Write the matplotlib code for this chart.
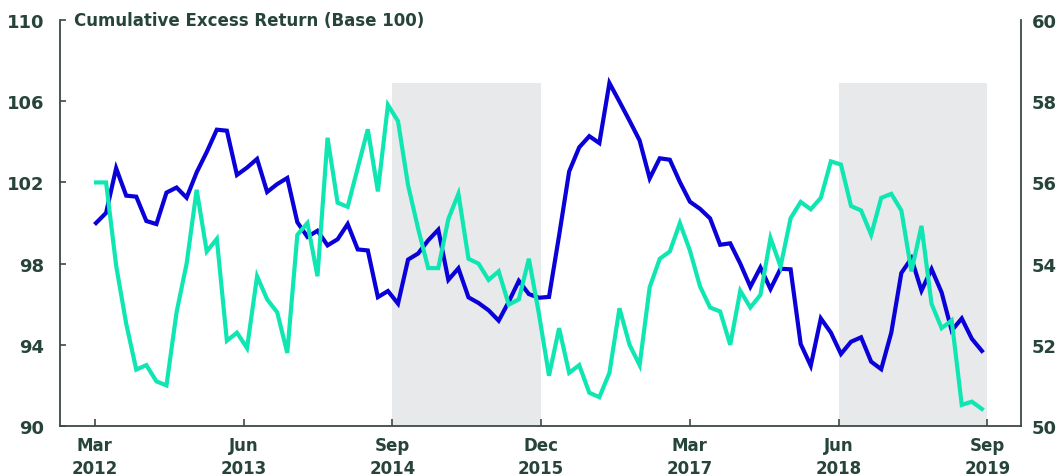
import matplotlib
matplotlib.use("Agg")
import matplotlib.pyplot as plt
import pandas as pd

# ---- data ----
excess_return = [
    100.0, 100.5, 102.7, 101.35, 101.3, 100.1, 99.95, 101.5, 101.75, 101.25,
    102.5, 103.5, 104.6, 104.55, 102.37, 102.73, 103.16, 101.53, 101.92, 102.22,
    100.04, 99.32, 99.62, 98.9, 99.2, 99.95, 98.7, 98.65, 96.35, 96.65,
    96.03, 98.2, 98.5, 99.15, 99.67, 97.2, 97.77, 96.34, 96.06, 95.7,
    95.19, 96.12, 97.15, 96.5, 96.32, 96.36, 99.38, 102.54, 103.73, 104.28,
    103.94, 106.9, 105.98, 105.04, 104.07, 102.2, 103.19, 103.12, 102.02, 101.05,
    100.7, 100.23, 98.93, 99.0, 98.0, 96.86, 97.81, 96.75, 97.75, 97.72,
    94.04, 92.97, 95.3, 94.6, 93.55, 94.15, 94.37, 93.17, 92.8, 94.6,
    97.54, 98.26, 96.67, 97.73, 96.58, 94.7, 95.3, 94.3, 93.7,
]
right_series = [
    56.0, 56.0, 53.95, 52.52, 51.39, 51.5, 51.1, 51.0, 52.8, 54.0,
    55.82, 54.3, 54.61, 52.1, 52.3, 51.92, 53.69, 53.12, 52.8, 51.8,
    54.71, 55.0, 53.69, 57.1, 55.5, 55.4, 56.36, 57.31, 55.78, 57.91,
    57.51, 55.93, 54.86, 53.89, 53.89, 55.1, 55.72, 54.12, 54.0, 53.6,
    53.81, 52.99, 53.12, 54.12, 52.76, 51.24, 52.41, 51.31, 51.5, 50.82,
    50.71, 51.31, 52.9, 52.0, 51.5, 53.42, 54.12, 54.3, 55.0, 54.32,
    53.44, 52.92, 52.82, 52.0, 53.33, 52.92, 53.23, 54.63, 53.93, 55.12,
    55.52, 55.34, 55.62, 56.52, 56.44, 55.42, 55.31, 54.71, 55.62, 55.72,
    55.31, 53.81, 54.93, 53.01, 52.41, 52.6, 50.52, 50.6, 50.42,
]
dates = pd.date_range("2012-03-05", "2019-08-15", periods=len(excess_return))

tick_dates = pd.to_datetime(["2012-03-01", "2013-06-01", "2014-09-01", "2015-12-01",
                             "2017-03-01", "2018-06-01", "2019-09-01"])
tick_labels = ["Mar\n2012", "Jun\n2013", "Sep\n2014", "Dec\n2015",
               "Mar\n2017", "Jun\n2018", "Sep\n2019"]
shaded_periods = [("2014-09-01", "2015-12-01"), ("2018-06-01", "2019-09-01")]
left_ticks = [90, 94, 98, 102, 106, 110]
right_ticks = [50, 52, 54, 56, 58, 60]
title = "Cumulative Excess Return (Base 100)"

# ---- style ----
TXT = "#27443a"
SPINE = "#3c4a44"
BLUE = "#0a00d8"
GREEN = "#10e6b2"
SHADE = "#e8e9eb"
plt.rcParams["font.family"] = ["DejaVu Sans"]

fig = plt.figure(figsize=(10.59, 4.77), dpi=100)
ax = fig.add_axes([0.0562, 0.1048, 0.9079, 0.851])
ax2 = ax.twinx()

for s, e in shaded_periods:
    ax.axvspan(pd.Timestamp(s), pd.Timestamp(e), ymin=0, ymax=0.845,
               color=SHADE, lw=0, zorder=0)

ax.plot(dates, excess_return, color=BLUE, lw=3.0, solid_joinstyle="miter", zorder=3)
ax2.plot(dates, right_series, color=GREEN, lw=3.0, solid_joinstyle="miter", zorder=3)

ax.set_ylim(90, 110)
ax2.set_ylim(50, 60)
ax.set_xlim(pd.Timestamp("2011-11-14"), pd.Timestamp("2019-12-13"))

ax.set_yticks(left_ticks)
ax2.set_yticks(right_ticks)
ax.set_xticks(tick_dates)
ax.set_xticklabels(tick_labels, linespacing=1.3)

for a in (ax, ax2):
    a.spines["top"].set_visible(False)
    for sp in a.spines.values():
        sp.set_color(SPINE)
        sp.set_linewidth(1.3)
ax.spines["right"].set_visible(False)
ax2.spines["left"].set_visible(False)
ax2.spines["bottom"].set_visible(False)

ax.tick_params(axis="y", direction="in", length=4, width=1.2, color=SPINE,
               labelsize=13, labelcolor=TXT, pad=11)
ax2.tick_params(axis="y", direction="in", length=0, width=1.2, color=SPINE,
                labelsize=13, labelcolor=TXT, pad=8)
ax.tick_params(axis="x", direction="in", length=5, width=1.2, color=SPINE,
               labelsize=12, labelcolor=TXT, pad=7.5)
for lab in ax.get_xticklabels() + ax.get_yticklabels() + ax2.get_yticklabels():
    lab.set_fontweight("bold")

ax.text(0.015, 1.0, title, transform=ax.transAxes, ha="left", va="center",
        fontsize=12, fontweight="bold", color=TXT)

fig.savefig("out.png", dpi=100)
